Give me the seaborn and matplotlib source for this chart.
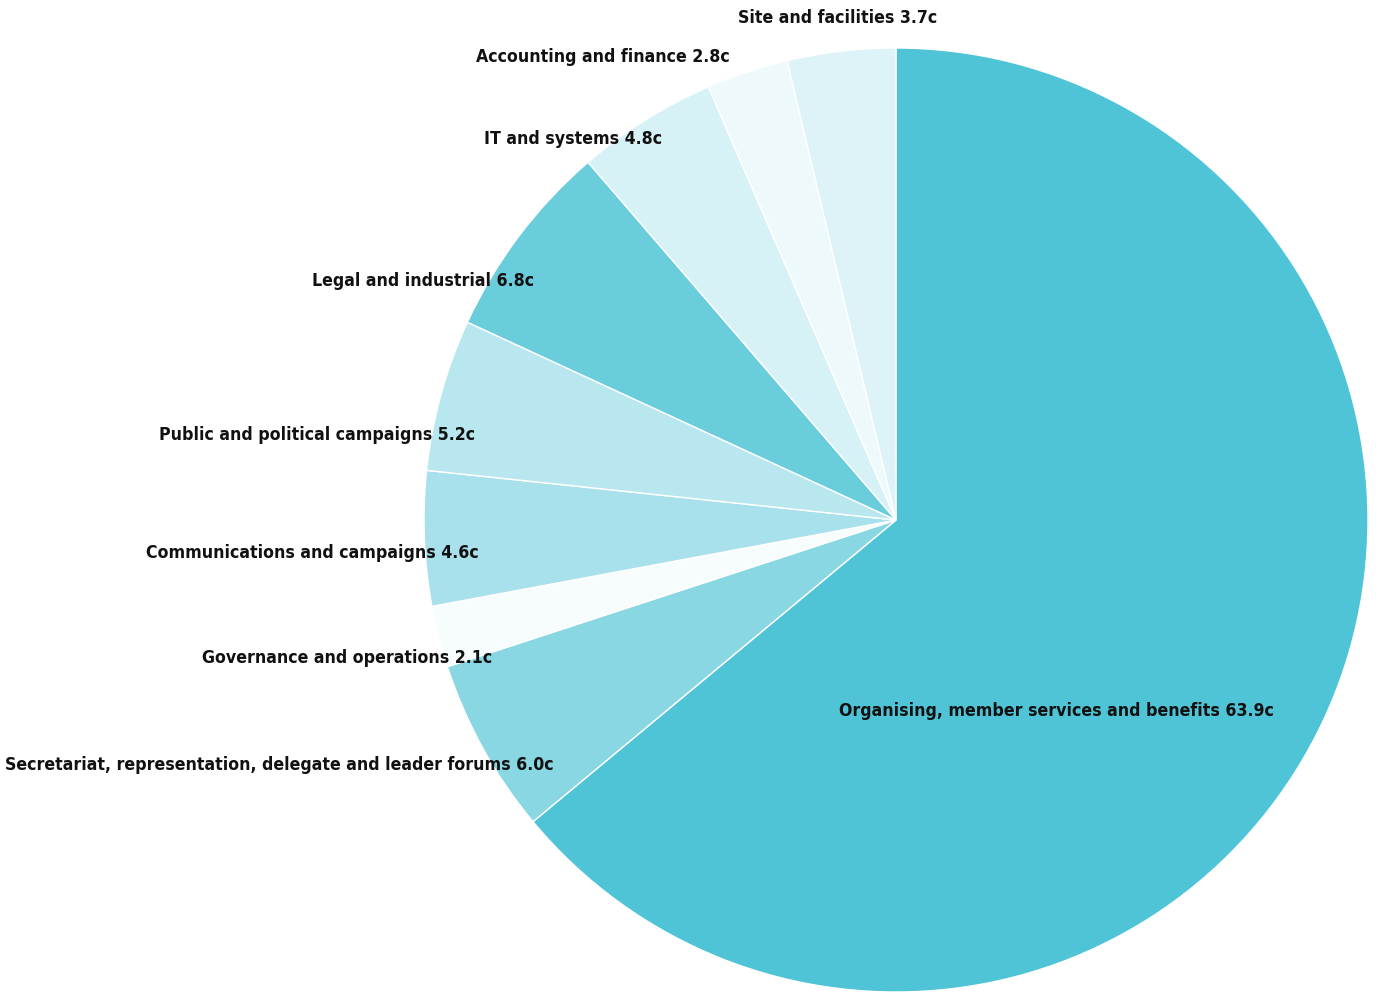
import matplotlib
matplotlib.use("Agg")
import matplotlib.pyplot as plt
import seaborn as sns

categories = [
    "Organising, member services and benefits",
    "Secretariat, representation, delegate and leader forums",
    "Governance and operations",
    "Communications and campaigns",
    "Public and political campaigns",
    "Legal and industrial",
    "IT and systems",
    "Accounting and finance",
    "Site and facilities",
]
values = [63.9, 6.0, 2.1, 4.6, 5.2, 6.8, 4.8, 2.8, 3.7]
colors = ["#4EC4D6", "#8AD7E4", "#F7FCFD", "#A8E1EB", "#B8E7EF",
          "#6ACDDC", "#D7F2F6", "#EEF9FB", "#DDF3F7"]

# label anchor positions in figure pixels (x, y from top, alignment)
label_pos = [
    (1056, 711, "center"),
    (554, 765, "right"),
    (492, 658, "right"),
    (479, 553, "right"),
    (475, 435, "right"),
    (534, 281, "right"),
    (662, 139, "right"),
    (730, 57, "right"),
    (937, 18, "right"),
]

sns.set_theme(style="white")
plt.rcParams["font.family"] = ["DejaVu Sans"]

W, H = 1378, 994
fig = plt.figure(figsize=(W / 100, H / 100), dpi=100)
cx, cy, r = 896, 520, 472
ax = fig.add_axes([(cx - r) / W, (H - cy - r) / H, 2 * r / W, 2 * r / H])
ax.pie(values, colors=colors, startangle=90, counterclock=False,
       wedgeprops=dict(edgecolor="white", linewidth=1.0))
ax.set_aspect("equal")
ax.set_xlim(-1, 1)
ax.set_ylim(-1, 1)
ax.axis("off")

for cat, val, (px, py, ha) in zip(categories, values, label_pos):
    fig.text(px / W, 1 - py / H, f"{cat} {val:.1f}c", ha=ha, va="center",
             fontsize=12.7, fontweight="bold", fontstretch="condensed",
             color="#111111")

fig.savefig("out.png", dpi=100)
